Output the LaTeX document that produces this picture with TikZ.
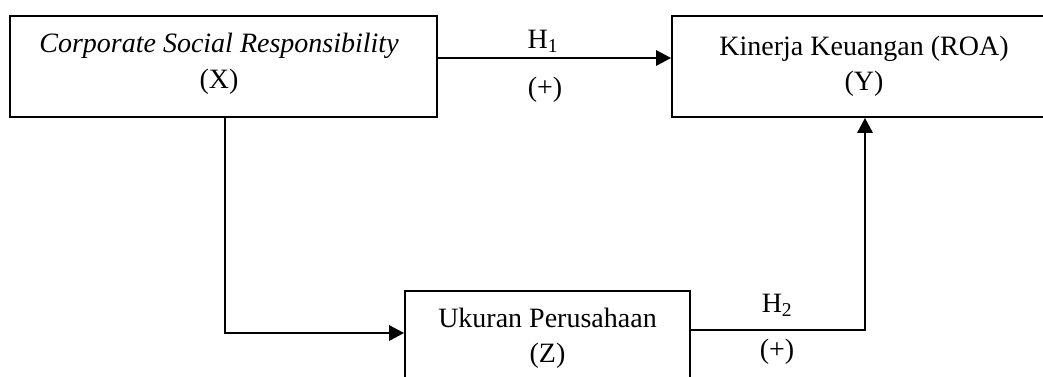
\documentclass[tikz,border=0pt]{standalone}
\usepackage{fontspec}
\setmainfont{Liberation Serif}
\usetikzlibrary{arrows.meta}
\begin{document}
\begin{tikzpicture}[x=1pt,y=-1pt,
  box/.style={draw, line width=1.7pt, inner sep=0pt},
  link/.style={line width=2.8pt},
  tip/.style={-{Triangle[length=15pt,width=15pt]}},
  txt/.style={anchor=base, inner sep=0pt, font=\fontsize{28}{34}\selectfont}]
\useasboundingbox (0,0) rectangle (1043,376);
\clip (0,0) rectangle (1043,376);
\node[box, minimum width=427pt, minimum height=101pt] (X) at (223.5,66.5) {};
\node[box, minimum width=382pt, minimum height=101pt] (Y) at (863,66.5) {};
\node[box, minimum width=285pt, minimum height=109pt] (Z) at (547.5,345.5) {};
\node[txt] (xa) at (219,52) {\itshape Corporate Social Responsibility};
\node[txt] (xb) at (219,88) {(X)};
\node[txt] (ya) at (864,55) {Kinerja Keuangan (ROA)};
\node[txt] (yb) at (864,90) {(Y)};
\node[txt] (za) at (547.5,327) {Ukuran Perusahaan};
\node[txt] (zb) at (547.5,362) {(Z)};
\node[txt] (h1) at (543,48) {H\textsubscript{1}};
\node[txt] (p1) at (545,96) {(+)};
\node[txt] (h2) at (777,312) {H\textsubscript{2}};
\node[txt] (p2) at (777,358) {(+)};
\draw[link,tip] ([yshift=8.5pt]X.east) -- ([yshift=8.5pt]Y.west);
\draw[link,tip] ([xshift=1.5pt]X.south) |- ([yshift=12.5pt]Z.west);
\draw[link,tip] ([yshift=15.5pt]Z.east) -| ([xshift=2pt]Y.south);
\end{tikzpicture}
\end{document}
